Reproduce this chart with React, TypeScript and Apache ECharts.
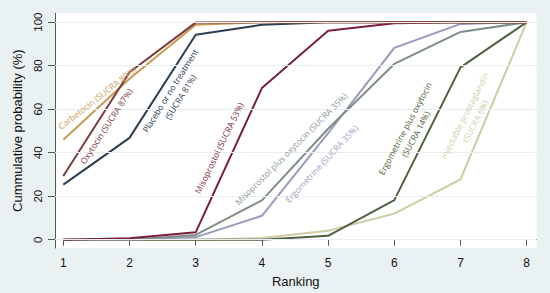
import React, { useEffect, useRef } from "react";
import * as echarts from "echarts";

const ranks = [1, 2, 3, 4, 5, 6, 7, 8];
const yTicks = [0, 20, 40, 60, 80, 100];

const carbetocin = [46, 74, 98.8, 100, 100, 100, 100, 100];
const oxytocin = [29.3, 77, 99.8, 100, 100, 100, 100, 100];
const placebo = [25.3, 46.8, 94.2, 98.8, 100, 100, 100, 100];
const misoprostol = [0, 0.7, 3.4, 69.7, 96.1, 99.5, 100, 100];
const misoOxy = [0, 0, 2.2, 18.1, 51, 80.8, 95.5, 100];
const ergometrine = [0, 0, 1.2, 11, 49, 88.2, 99.2, 100];
const ergoOxy = [0, 0, 0, 0, 1.8, 18.2, 79.2, 100];
const injProst = [0, 0, 0, 0.8, 4.1, 12, 27.7, 100];

const seriesDefs = [
  { name: "Injectable prostaglandin", data: injProst, color: "#CFCBA5" },
  { name: "Ergometrine plus oxytocin", data: ergoOxy, color: "#4E6140" },
  { name: "Ergometrine", data: ergometrine, color: "#9C98BE" },
  { name: "Misoprostol plus oxytocin", data: misoOxy, color: "#7F8F88" },
  { name: "Misoprostol", data: misoprostol, color: "#7A1E3C" },
  { name: "Placebo or no treatment", data: placebo, color: "#2C3E4F" },
  { name: "Carbetocin", data: carbetocin, color: "#C99A52" },
  { name: "Oxytocin", data: oxytocin, color: "#7B3B3E" },
];

const annotations = [
  { text: "Carbetocin (SUCRA 89%)", x: 1.51, y: 65.3, angle: 38, color: "#C9A060" },
  { text: "Oxytocin (SUCRA 87%)", x: 1.645, y: 52.2, angle: 57, color: "#7B3B3E" },
  { text: "Placebo or no treatment\n(SUCRA 81%)", x: 2.69, y: 67.1, angle: 58, color: "#2C3E4F" },
  { text: "Misoprostol (SUCRA 53%)", x: 3.35, y: 42.2, angle: 64, color: "#7A1E3C" },
  { text: "Misoprostol plus oxytocin (SUCRA 35%)", x: 4.44, y: 41.8, angle: 45, color: "#8A9A95" },
  { text: "Ergometrine (SUCRA 35%)", x: 4.9, y: 35, angle: 47, color: "#A09CC0" },
  { text: "Ergometrine plus oxytocin\n(SUCRA 14%)", x: 6.24, y: 49.9, angle: 62, color: "#4A5E3A" },
  { text: "Injectable prostaglandin\n(SUCRA 6%)", x: 7.14, y: 55.8, angle: 63, color: "#D0CCA8" },
];

const axisFont = 'Arial, "Liberation Sans", sans-serif';

export default function App() {
  const ref = useRef<HTMLDivElement>(null);
  useEffect(() => {
    if (!ref.current) return;
    const chart = echarts.init(ref.current, null, { renderer: "svg" });
    const series: any[] = seriesDefs.map((s) => ({
      type: "line",
      name: s.name,
      data: ranks.map((r, i) => [r, s.data[i]]),
      showSymbol: false,
      symbol: "none",
      lineStyle: { color: s.color, width: 2 },
      itemStyle: { color: s.color },
      z: 3,
    }));
    series.unshift({
      type: "line",
      data: [],
      silent: true,
      z: 1,
      markLine: {
        silent: true,
        symbol: "none",
        label: { show: false },
        lineStyle: { color: "#E8EEF1", width: 1, type: "solid" },
        data: yTicks.map((v) => ({ yAxis: v })),
      },
    });
    chart.setOption({
      animation: false,
      backgroundColor: "#EAF1F3",
      grid: {
        left: 55,
        right: 13.5,
        top: 13.3,
        bottom: 41.3,
        show: true,
        backgroundColor: "#FFFFFF",
        borderWidth: 0,
      },
      xAxis: {
        type: "value",
        min: 0.8746,
        max: 8.148,
        name: "Ranking",
        nameLocation: "middle",
        nameGap: 27,
        nameTextStyle: { fontFamily: axisFont, fontSize: 13, color: "#111" },
        axisLine: { show: true, lineStyle: { color: "#555", width: 1 } },
        axisTick: { show: true, length: 6, customValues: ranks, lineStyle: { color: "#555" } },
        axisLabel: { customValues: ranks, fontFamily: axisFont, fontSize: 12, color: "#111", margin: 9 },
        splitLine: { show: false },
      },
      yAxis: {
        type: "value",
        min: -3.8,
        max: 104.07,
        name: "Cummulative probability (%)",
        nameLocation: "middle",
        nameGap: 27,
        nameTextStyle: { fontFamily: axisFont, fontSize: 13, color: "#111" },
        axisLine: { show: true, lineStyle: { color: "#555", width: 1 } },
        axisTick: { show: true, length: 7, customValues: yTicks, lineStyle: { color: "#555" } },
        axisLabel: { customValues: yTicks, rotate: 90, fontFamily: axisFont, fontSize: 11.5, color: "#111", margin: 11 },
        splitLine: { show: false },
      },
      series,
    });
    const graphic = annotations.map((a) => {
      const p = chart.convertToPixel({ xAxisIndex: 0, yAxisIndex: 0 }, [a.x, a.y]) as number[];
      return {
        type: "text",
        x: p[0],
        y: p[1],
        rotation: (a.angle * Math.PI) / 180,
        silent: true,
        z: 10,
        style: {
          text: a.text,
          fill: a.color,
          fontSize: 8.5,
          fontFamily: '"Open Sans", sans-serif',
          align: "center",
          verticalAlign: "middle",
          lineHeight: 12,
        },
      };
    });
    chart.setOption({ graphic });
    return () => chart.dispose();
  }, []);
  return (
    <div
      ref={ref}
      style={{ position: "fixed", left: 0, top: 0, width: 550, height: 293 }}
    />
  );
}
